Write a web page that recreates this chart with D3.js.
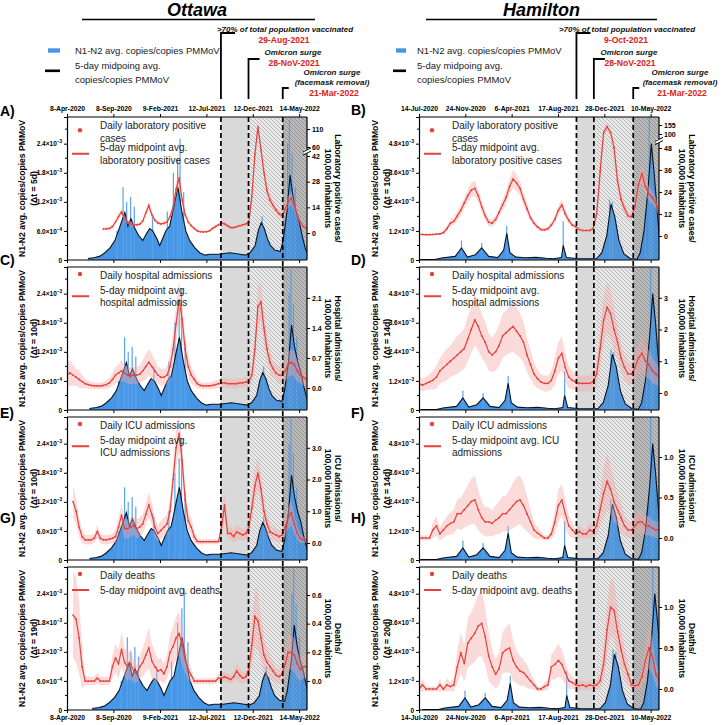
<!DOCTYPE html>
<html><head><meta charset="utf-8">
<script src="https://cdn.jsdelivr.net/npm/d3@7"></script>
<style>body{margin:0;background:#fff}svg{display:block}text{font-family:"Liberation Sans",Arial,sans-serif}</style>
</head><body><svg id="c" width="728" height="725"></svg>
<script>
// ---------------- DATA ----------------
const ottawaDates=["2020-04-08","2020-04-18","2020-04-28","2020-05-08","2020-05-18","2020-05-28","2020-06-07","2020-06-17","2020-06-27","2020-07-07",
"2020-07-17","2020-07-27","2020-08-06","2020-08-16","2020-08-26","2020-09-05","2020-09-15","2020-09-25","2020-10-05","2020-10-15",
"2020-10-25","2020-11-04","2020-11-14","2020-11-24","2020-12-04","2020-12-14","2020-12-24","2021-01-03","2021-01-13","2021-01-23",
"2021-02-02","2021-02-12","2021-02-22","2021-03-04","2021-03-14","2021-03-24","2021-04-03","2021-04-13","2021-04-23","2021-05-03",
"2021-05-13","2021-05-23","2021-06-02","2021-06-12","2021-06-22","2021-07-02","2021-07-12","2021-07-22","2021-08-01","2021-08-11",
"2021-08-21","2021-08-31","2021-09-10","2021-09-20","2021-09-30","2021-10-10","2021-10-20","2021-10-30","2021-11-09","2021-11-19",
"2021-11-29","2021-12-09","2021-12-19","2021-12-29","2022-01-08","2022-01-18","2022-01-28","2022-02-07","2022-02-17","2022-02-27",
"2022-03-09","2022-03-19","2022-03-29","2022-04-08","2022-04-18","2022-04-28","2022-05-08","2022-05-18","2022-05-28","2022-06-07"];
const hamiltonDates=["2020-07-14","2020-07-24","2020-08-03","2020-08-13","2020-08-23","2020-09-02","2020-09-12","2020-09-22","2020-10-02","2020-10-12",
"2020-10-22","2020-11-01","2020-11-11","2020-11-21","2020-12-01","2020-12-11","2020-12-21","2020-12-31","2021-01-10","2021-01-20",
"2021-01-30","2021-02-09","2021-02-19","2021-03-01","2021-03-11","2021-03-21","2021-03-31","2021-04-10","2021-04-20","2021-04-30",
"2021-05-10","2021-05-20","2021-05-30","2021-06-09","2021-06-19","2021-06-29","2021-07-09","2021-07-19","2021-07-29","2021-08-08",
"2021-08-18","2021-08-28","2021-09-07","2021-09-17","2021-09-27","2021-10-07","2021-10-17","2021-10-27","2021-11-06","2021-11-16",
"2021-11-26","2021-12-06","2021-12-16","2021-12-26","2022-01-05","2022-01-15","2022-01-25","2022-02-04","2022-02-14","2022-02-24",
"2022-03-06","2022-03-16","2022-03-26","2022-04-05","2022-04-15","2022-04-25","2022-05-05","2022-05-15","2022-05-25","2022-06-04"];

// Ottawa clinical (per 100,000)
const ottawaCases=[null,null,null,null,null,null,null,null,null,null,null,null,
2.2,2.3,2.5,3.5,6,9,11.5,8,6,5,4.5,4.5,4.8,6.5,11,15,10,7,5.5,5,5.3,6,9,14,24,30,18,10,6,4,2.5,1.2,0.7,0.6,0.7,1.2,2.5,3.5,4.5,5.5,5,4,3,3,3.5,4,4.5,5,6,20,45,116,55,33,23,18,15,12.5,10.5,9.5,13,17,19,15,10,6,3.5,2.5];
const ottawaCasesSpread=[null,null,null,null,null,null,null,null,null,null,null,null,
0.8,0.8,0.8,1,1.2,1.5,2,1.5,1.2,1,1,1,1,1.2,1.8,2.5,1.8,1.3,1,1,1,1.2,1.5,2.5,3.5,4,3,2,1.2,1,0.8,0.6,0.5,0.5,0.5,0.6,0.8,1,1,1.2,1.2,1,0.8,0.8,0.8,1,1,1,1.2,4,8,18,10,5,3.5,3,2.5,2,2,2,2.5,3,3.5,3,2,1.5,1,1];
const ottawaHosp=[0.3,0.35,0.3,0.25,0.2,0.15,0.1,0.08,0.06,0.05,0.05,0.05,0.06,0.08,0.12,0.2,0.3,0.35,0.4,0.35,0.3,0.28,0.3,0.3,0.32,0.4,0.5,0.6,0.5,0.4,0.3,0.25,0.25,0.3,0.5,0.9,1.5,2.05,1.6,0.9,0.5,0.3,0.2,0.1,0.06,0.05,0.05,0.05,0.06,0.08,0.1,0.12,0.12,0.1,0.1,0.1,0.1,0.12,0.12,0.14,0.15,0.3,0.9,1.9,2.0,1.4,0.9,0.6,0.45,0.35,0.3,0.3,0.4,0.55,0.6,0.55,0.4,0.3,0.25,0.2];
const ottawaHospSpread=[0.3,0.3,0.25,0.2,0.2,0.15,0.1,0.1,0.08,0.08,0.08,0.08,0.08,0.1,0.12,0.15,0.2,0.2,0.25,0.2,0.2,0.2,0.2,0.2,0.2,0.25,0.3,0.3,0.3,0.25,0.2,0.2,0.2,0.2,0.3,0.4,0.45,0.45,0.4,0.3,0.25,0.2,0.15,0.1,0.08,0.08,0.08,0.08,0.08,0.1,0.1,0.12,0.12,0.12,0.12,0.12,0.12,0.12,0.12,0.12,0.12,0.2,0.35,0.45,0.45,0.35,0.3,0.25,0.2,0.2,0.2,0.2,0.25,0.3,0.3,0.3,0.25,0.2,0.2,0.2];
const ottawaICU=[null,null,1.3,1.0,0.5,0.2,0.1,0.1,0.1,0.15,0.36,0.15,0.1,0.1,0.12,0.15,0.2,0.5,0.88,0.45,0.45,0.5,0.55,0.45,0.5,0.6,0.9,1.2,0.9,0.5,0.3,0.4,0.5,0.6,1.0,2.0,3.0,3.45,2.6,1.36,0.7,0.5,0.2,0.05,0.04,0.04,0.04,0.04,0.04,0.04,0.04,0.5,1.2,0.3,0.3,0.2,0.35,0.3,0.25,0.3,0.5,1.1,1.8,2.2,1.7,1.0,0.6,0.35,0.3,0.25,0.2,0.25,0.5,0.8,0.95,0.6,0.3,0.15,0.1,0.1];
const ottawaICUSpread=[null,null,0.5,0.4,0.3,0.2,0.15,0.15,0.15,0.15,0.2,0.15,0.15,0.15,0.15,0.15,0.2,0.3,0.35,0.3,0.3,0.3,0.3,0.3,0.3,0.3,0.35,0.4,0.35,0.3,0.25,0.3,0.3,0.3,0.4,0.5,0.6,0.6,0.5,0.4,0.3,0.3,0.2,0.1,0.08,0.08,0.08,0.08,0.08,0.08,0.08,0.3,0.4,0.2,0.2,0.2,0.25,0.2,0.2,0.2,0.3,0.4,0.5,0.5,0.45,0.35,0.3,0.25,0.2,0.2,0.2,0.2,0.3,0.35,0.4,0.3,0.2,0.15,0.1,0.1];
const ottawaDeaths=[null,null,0.46,0.43,0.3,0.1,0,0,0,0,0.02,0,0,0,0,0.1,0.16,0.12,0.22,0.13,0.1,0.12,0.07,0.05,0.1,0.13,0.18,0.23,0.14,0.1,0.07,0.08,0.05,0.1,0.2,0.24,0.3,0.33,0.25,0.15,0.08,0.04,0,0,0,0,0,0,0,0,0.02,0.02,0.03,0.02,0.01,0.03,0.07,0.04,0.02,0.03,0.08,0.25,0.45,0.42,0.3,0.18,0.13,0.1,0.07,0.04,0.03,0.05,0.12,0.2,0.2,0.18,0.12,0.08,0.1,0.1];
const ottawaDeathsSpread=[null,null,0.3,0.3,0.25,0.15,0.03,0.03,0.03,0.03,0.04,0.03,0.03,0.03,0.03,0.08,0.1,0.1,0.12,0.1,0.1,0.1,0.08,0.06,0.08,0.1,0.12,0.14,0.12,0.1,0.08,0.08,0.07,0.08,0.12,0.14,0.15,0.15,0.14,0.1,0.07,0.05,0.02,0.02,0.02,0.02,0.02,0.02,0.02,0.02,0.03,0.03,0.04,0.03,0.03,0.04,0.06,0.05,0.04,0.04,0.07,0.15,0.2,0.2,0.15,0.12,0.1,0.08,0.07,0.05,0.05,0.06,0.1,0.12,0.12,0.12,0.1,0.08,0.08,0.08];

// Hamilton clinical (per 100,000)
const hamiltonCases=[0.8,0.8,0.7,0.7,0.8,1.0,1.2,1.8,4,7,8,11,14,18,22,25,26,22,16,11,7.5,7,9,13,17,21,27,31,29,26,20,15,10,7,5,3.5,3.3,4,6,9,14,17,12,8.5,6,5,3.5,3,3,3,4,12,35,110,145,110,50,30,20,15,11,10.5,16,28,34,27,23,21,18,12];
const hamiltonCasesSpread=[0.5,0.5,0.5,0.5,0.5,0.6,0.7,1,1.5,2,2,2.5,3,3,3.5,4,4,3.5,3,2.5,2,2,2,2.5,3,3.5,4,5,4.5,4,3.5,3,2,1.5,1.2,1,1,1,1.5,2,2.5,3,2.5,2,1.5,1.2,1,1,1,1,1.2,3,8,20,25,20,10,5,3.5,3,2.5,2.5,3,4,5,4.5,4,3.5,3,2.5];
const hamiltonHosp=[0.3,0.25,0.3,0.35,0.4,0.5,0.7,0.8,0.9,1.0,1.1,1.2,1.3,1.4,1.7,2.0,2.3,2.1,1.8,1.6,1.3,1.2,1.3,1.5,1.8,1.9,2.0,2.1,1.95,1.8,1.6,1.2,0.9,0.6,0.45,0.35,0.3,0.3,0.4,0.7,1.1,1.25,0.8,0.5,0.4,0.35,0.3,0.3,0.3,0.3,0.35,0.6,1.4,2.3,2.7,2.5,2.0,1.6,1.1,0.8,0.6,0.6,0.8,1.1,1.25,1.0,0.9,0.7,0.6,0.5];
const hamiltonHospSpread=[0.2,0.2,0.2,0.25,0.3,0.35,0.4,0.45,0.5,0.5,0.55,0.6,0.6,0.65,0.7,0.75,0.8,0.75,0.7,0.65,0.6,0.55,0.6,0.65,0.7,0.7,0.75,0.8,0.75,0.7,0.65,0.55,0.45,0.35,0.3,0.25,0.25,0.25,0.3,0.45,0.5,0.55,0.45,0.35,0.3,0.25,0.25,0.25,0.25,0.25,0.3,0.4,0.6,0.75,0.8,0.75,0.65,0.55,0.45,0.4,0.35,0.35,0.45,0.5,0.55,0.5,0.45,0.4,0.35,0.3];
const hamiltonICU=[0,0,0,0,0.1,0.15,0.05,0.1,0.15,0.18,0.2,0.3,0.3,0.35,0.4,0.45,0.47,0.35,0.25,0.2,0.2,0.18,0.22,0.25,0.3,0.3,0.35,0.4,0.45,0.47,0.4,0.3,0.2,0.1,0.06,0.03,0,0,0.05,0.2,0.4,0.47,0.3,0.15,0.1,0.05,0.08,0.05,0.05,0.1,0.08,0.15,0.35,0.55,0.7,0.6,0.45,0.35,0.25,0.15,0.1,0.1,0.15,0.2,0.2,0.15,0.15,0.12,0.1,0.1];
const hamiltonICUSpread=[0.03,0.03,0.03,0.03,0.1,0.12,0.08,0.1,0.12,0.14,0.15,0.18,0.2,0.22,0.25,0.28,0.3,0.25,0.2,0.18,0.18,0.16,0.18,0.2,0.22,0.22,0.25,0.28,0.3,0.3,0.28,0.22,0.16,0.1,0.08,0.05,0.03,0.03,0.06,0.15,0.2,0.2,0.18,0.12,0.1,0.06,0.08,0.06,0.06,0.1,0.08,0.12,0.2,0.3,0.35,0.3,0.25,0.2,0.18,0.12,0.1,0.1,0.12,0.14,0.14,0.12,0.12,0.1,0.1,0.1];
const hamiltonDeaths=[0,0.05,0,0,0,0,0.05,0,0.05,0.03,0.05,0.27,0.44,0.31,0.56,0.62,0.68,0.77,0.8,0.64,0.4,0.27,0.18,0.25,0.44,0.48,0.5,0.35,0.27,0.22,0.2,0.15,0.1,0.05,0,0,0.03,0.05,0.27,0.3,0.35,0.3,0.2,0.1,0.08,0.05,0.04,0.05,0.03,0.05,0.04,0.05,0.1,0.3,0.72,1.0,0.96,0.7,0.48,0.3,0.18,0.05,0.04,0.05,0.15,0.35,0.5,0.4,0.18,0.1];
const hamiltonDeathsSpread=[0.03,0.08,0.03,0.03,0.03,0.03,0.08,0.03,0.08,0.05,0.08,0.2,0.25,0.22,0.3,0.32,0.35,0.38,0.4,0.35,0.3,0.22,0.18,0.2,0.25,0.28,0.3,0.25,0.2,0.18,0.16,0.14,0.1,0.06,0.03,0.03,0.05,0.06,0.15,0.18,0.2,0.18,0.14,0.1,0.08,0.06,0.06,0.06,0.05,0.06,0.06,0.06,0.1,0.2,0.3,0.35,0.35,0.3,0.25,0.2,0.14,0.06,0.06,0.06,0.12,0.2,0.25,0.22,0.14,0.1];

// Wastewater N1-N2/PMMoV (x 1e-4), 5-day midpoint avg (dates as plotted with panel A / B lag)
const ottawaWWDates=["2020-06-16","2020-07-09","2020-07-26","2020-08-11","2020-08-28","2020-09-13","2020-09-30","2020-10-16","2020-10-26","2020-11-05","2020-11-18","2020-12-01","2020-12-14","2020-12-27","2021-01-06","2021-01-16","2021-01-29","2021-02-08","2021-02-18","2021-02-28","2021-03-13","2021-03-23","2021-04-02","2021-04-09","2021-04-22","2021-05-05","2021-05-18","2021-06-04","2021-06-20","2021-07-07","2021-07-23","2021-08-22","2021-09-27","2021-10-31","2021-11-17","2021-12-03","2021-12-20","2021-12-30","2022-01-09","2022-01-19","2022-01-29","2022-02-08","2022-02-24","2022-03-13","2022-03-22","2022-04-04","2022-04-14","2022-04-24","2022-05-04","2022-05-14","2022-05-24","2022-06-03","2022-06-09"];
const ottawaWW=[0.3,0.5,0.8,1.5,2.5,4,7,9.8,7,8.5,6.5,5,4,5.5,6.5,6,4.5,3,4.5,6,7,10,13,15,10,6,4,2.5,1.5,1,1.2,1.2,1.5,1.2,1.0,1.5,3,6,7.7,6.5,4.5,3,2,1.8,4,10,17.5,13,10,8,5,2.5,1.5];
const ottawaSpikeDates=["2020-09-20","2020-10-10","2020-10-22","2020-11-04","2020-11-16","2021-01-15","2021-03-05","2021-03-25","2021-04-08","2021-04-16","2021-04-28","2022-01-12","2022-04-06","2022-04-12","2022-04-20","2022-05-01"];
const ottawaSpikes=[6,15,12,13,11,9,10,18,21,25,14,9,24,29,22,15];
const hamiltonWWDates=["2020-07-14","2020-08-29","2020-09-16","2020-10-26","2020-11-13","2020-11-30","2020-12-23","2021-01-10","2021-01-30","2021-02-25","2021-03-14","2021-03-23","2021-04-01","2021-04-18","2021-05-17","2021-06-15","2021-07-14","2021-08-04","2021-08-27","2021-09-01","2021-09-10","2021-10-09","2021-11-07","2021-12-06","2021-12-21","2022-01-04","2022-01-16","2022-01-27","2022-02-08","2022-02-22","2022-03-12","2022-04-01","2022-04-10","2022-04-21","2022-05-03","2022-05-12","2022-05-20","2022-05-29","2022-06-07"];
const hamiltonWW=[0.2,0.2,0.8,1.5,5,1.2,2.2,5,1.5,1,4,11,3,1.2,0.9,1.1,0.7,0.5,1,6,1,0.6,0.5,0.6,3,10,23,18,8,2.5,0.6,0.3,3,12,30,48,36,20,4];
const hamiltonSpikeDates=["2020-11-13","2021-01-10","2021-03-23","2021-09-01","2022-01-12","2022-01-20","2022-04-25","2022-05-06","2022-05-10","2022-05-16"];
const hamiltonSpikes=[8,7,14,16,25,24,20,59,45,40];

// Axis ticks / labels / events
const ottawaTopTicks=["2020-04-08","2020-09-08","2021-02-09","2021-07-12","2021-12-12","2022-05-14"];
const ottawaTopLabels=["8-Apr-2020","8-Sep-2020","9-Feb-2021","12-Jul-2021","12-Dec-2021","14-May-2022"];
const hamiltonTopTicks=["2020-07-14","2020-11-24","2021-04-06","2021-08-17","2021-12-28","2022-05-10"];
const hamiltonTopLabels=["14-Jul-2020","24-Nov-2020","6-Apr-2021","17-Aug-2021","28-Dec-2021","10-May-2022"];
const ottawaEvents=["2021-08-29","2021-11-28","2022-03-21"];
const hamiltonEvents=["2021-10-09","2021-11-28","2022-03-21"];
const ottawaEventLabels=["29-Aug-2021","28-NoV-2021","21-Mar-2022"];
const hamiltonEventLabels=["9-Oct-2021","28-NoV-2021","21-Mar-2022"];
const ottawaLeftTicks=[0,6e-4,1.2e-3,1.8e-3,2.4e-3];
const ottawaLeftMinor=[3e-4,9e-4,1.5e-3,2.1e-3,2.7e-3];
const hamiltonLeftTicks=[0,1.2e-3,2.4e-3,3.6e-3,4.8e-3];
const hamiltonLeftMinor=[6e-4,1.8e-3,3e-3,4.2e-3,5.4e-3];
const ottawaLags=[5,10,10,19];
const hamiltonLags=[10,14,14,20];
const casesTicksO=[0,14,28,42,60,110], hospTicksO=[0,0.7,1.4,2.1], icuTicksO=[0,1,2,3], deathTicksO=[0,0.2,0.4,0.6];
const casesTicksH=[0,12,24,36,48,100,155], hospTicksH=[0,1,2,3], icuTicksH=[0,0.5,1], deathTicksH=[0,0.5,1];

// ---------------- DRAW ----------------
const parse=d3.timeParse("%Y-%m-%d");
const svg=d3.select("#c");
const RED="#e8413c", BLUE="#4797e6", BLK="#0b1220";
const rows=[117,267,417,567], PH=143;
const defs=svg.append("defs");
function hatch(id,color,sw){const p=defs.append("pattern").attr("id",id).attr("patternUnits","userSpaceOnUse").attr("width",4).attr("height",4);
 p.append("path").attr("d","M0,0L4,4M-1,3L1,5M3,-1L5,1").attr("stroke",color).attr("stroke-width",sw).attr("fill","none");}
hatch("h2","#8c8c8c",0.7); hatch("h3","#6e6e6e",0.8);

const cities=[
 {key:"o",title:"Ottawa",tx:197,ul:[82,315],x0:67,x1:307,start:"2020-04-08",end:"2022-06-09",leftMax:2.95e-3,lt:ottawaLeftTicks,lm:ottawaLeftMinor,
  wwd:ottawaWWDates,ww:ottawaWW,sd:ottawaSpikeDates,sp:ottawaSpikes,baseLag:5,dates:ottawaDates,ev:ottawaEvents,evl:ottawaEventLabels,
  tt:ottawaTopTicks,tl:ottawaTopLabels,lx:0,yl1:25,yl2:37,rl1:335,rl2:325,lags:ottawaLags,legX:48,
  annX:[285,293,332],
  panels:[
   {L:"A)",LY:116,v:ottawaCases,s:ottawaCasesSpread,rd:[-14.7,42,60,143.3],ro:[0,104,113,143],rt:casesTicksO,f:"d",rl:"Laboratory positive cases/",l1:["Daily laboratory positive","cases"],l2:["5-day midpoint avg.","laboratory positive cases"],brk:[42,60]},
   {L:"C)",LY:265,v:ottawaHosp,s:ottawaHospSpread,rd:[-0.513,2.82],ro:[0,143],rt:hospTicksO,f:".1f",rl:"Hospital admissions/",l1:["Daily hospital admissions"],l2:["5-day midpoint avg.","hospital admissions"]},
   {L:"E)",LY:418,v:ottawaICU,s:ottawaICUSpread,rd:[-0.536,3.97],ro:[0,143],rt:icuTicksO,f:".1f",rl:"ICU admissions/",l1:["Daily ICU admissions"],l2:["5-day midpoint avg.","ICU admissions"]},
   {L:"G)",LY:523,v:ottawaDeaths,s:ottawaDeathsSpread,rd:[-0.202,0.795],ro:[0,143],rt:deathTicksO,f:".1f",rl:"Deaths/",l1:["Daily deaths"],l2:["5-day midpoint avg. deaths"]}
  ]},
 {key:"h",title:"Hamilton",tx:541.5,ul:[426,657],x0:419,x1:659,start:"2020-07-14",end:"2022-06-03",leftMax:5.9e-3,lt:hamiltonLeftTicks,lm:hamiltonLeftMinor,
  wwd:hamiltonWWDates,ww:hamiltonWW,sd:hamiltonSpikeDates,sp:hamiltonSpikes,baseLag:10,dates:hamiltonDates,ev:hamiltonEvents,evl:hamiltonEventLabels,
  tt:hamiltonTopTicks,tl:hamiltonTopLabels,lx:351,yl1:378,yl2:390,rl1:689,rl2:679,lags:hamiltonLags,legX:396,
  annX:[627,629,680],
  panels:[
   {L:"B)",LY:115,v:hamiltonCases,s:hamiltonCasesSpread,rd:[-13.1,48,100,204],ro:[0,112,126,143],rt:casesTicksH,f:"d",rl:"Laboratory positive cases/",l1:["Daily laboratory positive","cases"],l2:["5-day midpoint avg.","laboratory positive cases"],brk:[48,100]},
   {L:"D)",LY:265,v:hamiltonHosp,s:hamiltonHospSpread,rd:[-0.536,3.97],ro:[0,143],rt:hospTicksH,f:"d",rl:"Hospital admissions/",l1:["Daily hospital admissions"],l2:["5-day midpoint avg.","hospital admissions"]},
   {L:"F)",LY:418,v:hamiltonICU,s:hamiltonICUSpread,rd:[-0.272,1.494],ro:[0,143],rt:icuTicksH,f:".1f",rl:"ICU admissions/",l1:["Daily ICU admissions"],l2:["5-day midpoint avg. ICU","admissions"]},
   {L:"H)",LY:523,v:hamiltonDeaths,s:hamiltonDeathsSpread,rd:[-0.256,1.488],ro:[0,143],rt:deathTicksH,f:".1f",rl:"Deaths/",l1:["Daily deaths"],l2:["5-day midpoint avg. deaths"]}
  ]}
];

cities.forEach(c=>{
 const x=d3.scaleTime().domain([parse(c.start),parse(c.end)]).range([c.x0,c.x1]);
 const ev=c.ev.map(parse).map(x);
 // title
 svg.append("text").attr("x",c.tx).attr("y",16).attr("text-anchor","middle").attr("font-size",18).attr("font-weight","bold").attr("font-style","italic").text(c.title);
 svg.append("line").attr("x1",c.ul[0]).attr("x2",c.ul[1]).attr("y1",19.5).attr("y2",19.5).attr("stroke","#000").attr("stroke-width",1.6);
 // header legend
 const lg=svg.append("g").attr("font-size",9.5).attr("fill","#222");
 lg.append("rect").attr("x",c.legX).attr("y",48.3).attr("width",c.key==="o"?12:10).attr("height",4.4).attr("fill",BLUE);
 lg.append("rect").attr("x",c.legX-3).attr("y",69.5).attr("width",c.key==="o"?15:13).attr("height",2.6).attr("fill","#000");
 const tx=c.legX+(c.key==="o"?27:21);
 lg.append("text").attr("x",tx).attr("y",53.5).text("N1-N2 avg. copies/copies PMMoV");
 lg.append("text").attr("x",tx).attr("y",69).text("5-day midpoing avg.");
 lg.append("text").attr("x",tx).attr("y",83).text("copies/copies PMMoV");
 // annotations
 const bt=[33,59,88], bl=[14,11,6];
 ev.forEach((ex,i)=>{
  svg.append("path").attr("d",`M${ex+bl[i]},${bt[i]}H${ex}V99`).attr("fill","none").attr("stroke","#000").attr("stroke-width",1.8);
 });
 const at=svg.append("g").attr("text-anchor","middle").attr("font-weight","bold");
 const tb=(t,xx,yy,red,fs)=>at.append("text").attr("x",xx).attr("y",yy).attr("font-size",fs||8).attr("font-style",red?"normal":"italic").attr("fill",red?"#e02020":"#111").text(t);
 tb(">70% of total population vaccinated",c.annX[0],32);
 tb(c.evl[0],c.annX[0]-1,42.5,true,8.6);
 tb("Omicron surge",c.annX[1],55);
 tb(c.evl[1],c.annX[1]+1,65.5,true,8.6);
 tb("Omicron surge",c.annX[2],75);
 tb("(facemask removal)",c.annX[2],84.5);
 tb(c.evl[2],c.annX[2]+2,95.5,true,8.6);

 const yL=d3.scaleLinear().domain([0,c.leftMax]);
 c.panels.forEach((p,pi)=>{
  const top=rows[pi], bot=top+PH;
  yL.range([bot,top]);
  const yR=d3.scaleLinear().domain(p.rd).range(p.ro.map(o=>bot-o));
  const g=svg.append("g");
  const cid=`clip-${c.key}-${pi}`;
  defs.append("clipPath").attr("id",cid).append("rect").attr("x",c.x0).attr("y",top).attr("width",c.x1-c.x0).attr("height",PH);
  const cg=g.append("g").attr("clip-path",`url(#${cid})`);
  // shaded regions
  cg.append("rect").attr("x",ev[0]).attr("y",top).attr("width",ev[1]-ev[0]).attr("height",PH).attr("fill","#d9d9d9");
  cg.append("rect").attr("x",ev[1]).attr("y",top).attr("width",ev[2]-ev[1]).attr("height",PH).attr("fill","#e8e8e8");
  cg.append("rect").attr("x",ev[2]).attr("y",top).attr("width",c.x1-ev[2]).attr("height",PH).attr("fill","#b9b9b9");
  // wastewater
  const shift=c.lags[pi]-c.baseLag;
  const ww=c.wwd.map((d,i)=>({d:d3.timeDay.offset(parse(d),shift),v:c.ww[i]*1e-4}));
  cg.append("path").datum(ww).attr("fill",BLUE).attr("d",d3.area().x(d=>x(d.d)).y0(bot).y1(d=>yL(d.v)));
  c.sd.forEach((d,i)=>{const xx=x(d3.timeDay.offset(parse(d),shift));
   cg.append("rect").attr("x",xx-0.6).attr("width",1.2).attr("y",yL(c.sp[i]*1e-4)).attr("height",bot-yL(c.sp[i]*1e-4)).attr("fill","#5aa3ea");});
  // hatch overlays
  cg.append("rect").attr("x",ev[1]).attr("y",top).attr("width",ev[2]-ev[1]).attr("height",PH).attr("fill","url(#h2)").attr("opacity",0.75);
  cg.append("rect").attr("x",ev[2]).attr("y",top).attr("width",c.x1-ev[2]).attr("height",PH).attr("fill","url(#h3)").attr("opacity",0.6);
  cg.append("path").datum(ww).attr("fill","none").attr("stroke",BLK).attr("stroke-width",1.1).attr("d",d3.line().x(d=>x(d.d)).y(d=>yL(d.v)));
  // clinical
  const cl=c.dates.map((d,i)=>({d:parse(d),v:p.v[i],s:p.s[i]}));
  const def=d=>d.v!=null;
  cg.append("path").datum(cl).attr("fill","#f5aaa6").attr("opacity",0.42)
   .attr("d",d3.area().defined(def).x(d=>x(d.d)).y0(d=>yR(d.v-(d.s||0))).y1(d=>yR(d.v+(d.s||0))));
  cg.append("path").datum(cl).attr("fill","none").attr("stroke",RED).attr("stroke-width",1.2)
   .attr("d",d3.line().defined(def).x(d=>x(d.d)).y(d=>yR(d.v)));
  cg.selectAll(null).data(cl.filter(def)).join("circle").attr("cx",d=>x(d.d)).attr("cy",d=>yR(d.v)).attr("r",0.9).attr("fill",RED);
  // frame / axes
  g.append("line").attr("x1",c.x0).attr("x2",c.x1).attr("y1",top).attr("y2",top).attr("stroke","#000").attr("stroke-width",1.1);
  const la=d3.axisLeft(yL).tickValues(c.lt).tickSize(3).tickPadding(2);
  const lag=g.append("g").attr("transform",`translate(${c.x0},0)`).call(la);
  lag.select(".domain").attr("stroke-width",1.2);
  lag.selectAll(".tick text").attr("font-size",6.5).attr("font-weight","bold").attr("font-family",'"Liberation Sans",Arial,sans-serif').each(function(d){
   const t=d3.select(this); t.text(null);
   if(d===0){t.text("0");return;}
   const e=Math.floor(Math.log10(d)+1e-9), m=d/Math.pow(10,e);
   t.append("tspan").text(m.toFixed(1)+"×10");
   t.append("tspan").attr("dy",-3).attr("font-size",4.6).text(String(e).replace("-","−"));
  });
  c.lm.forEach(v=>g.append("line").attr("x1",c.x0-2).attr("x2",c.x0).attr("y1",yL(v)).attr("y2",yL(v)).attr("stroke","#000"));
  const ra=d3.axisRight(yR).tickValues(p.rt).tickSize(3).tickPadding(2).tickFormat(d3.format(p.f));
  const rag=g.append("g").attr("transform",`translate(${c.x1},0)`).call(ra);
  rag.select(".domain").attr("d",`M0,${top}V${bot}`).attr("stroke-width",1.2);
  rag.selectAll(".tick text").attr("font-size",7).attr("font-weight","bold").attr("font-family",'"Liberation Sans",Arial,sans-serif');
  if(p.brk){const yb=(yR(p.brk[0])+yR(p.brk[1]))/2;
   g.append("rect").attr("x",c.x1-3).attr("y",yb-2).attr("width",6).attr("height",4).attr("fill","#fff");
   [-1.6,1.6].forEach(o=>g.append("line").attr("x1",c.x1-4).attr("x2",c.x1+4).attr("y1",yb+o+2).attr("y2",yb+o-2).attr("stroke","#000").attr("stroke-width",1));}
  // bottom axis
  const ba=d3.axisBottom(x).tickValues(c.tt.map(parse)).tickSize(3).tickFormat((d,i)=>pi===3?c.tl[i]:"");
  const bag=g.append("g").attr("transform",`translate(0,${bot})`).call(ba);
  bag.select(".domain").attr("d",`M${c.x0},0H${c.x1}`).attr("stroke-width",1.2);
  bag.selectAll(".tick text").attr("font-size",6.8).attr("font-weight","bold").attr("font-family",'"Liberation Sans",Arial,sans-serif').attr("dy","0.6em");
  if(pi===0){
   const ta=d3.axisTop(x).tickValues(c.tt.map(parse)).tickSize(3).tickFormat((d,i)=>c.tl[i]);
   const tag=g.append("g").attr("transform",`translate(0,${top})`).call(ta);
   tag.select(".domain").remove();
   tag.selectAll(".tick text").attr("font-size",6.8).attr("font-weight","bold").attr("font-family",'"Liberation Sans",Arial,sans-serif');
  }
  // dashed event lines
  ev.forEach(ex=>g.append("line").attr("x1",ex).attr("x2",ex).attr("y1",top).attr("y2",bot+(pi<3?7:0)).attr("stroke","#000").attr("stroke-width",1.7).attr("stroke-dasharray","5,3"));
  // legend
  const lh=12.5;
  const ys1=p.l1.map((_,i)=>top+8.5+i*lh);
  const s2=p.l1.length>1?ys1[ys1.length-1]+9.5:ys1[0]+14.5;
  const ys2=p.l2.map((_,i)=>s2+i*lh);
  const lgp=g.append("g").attr("font-size",10).attr("fill","#222");
  p.l1.forEach((t,i)=>lgp.append("text").attr("x",c.x0+33).attr("y",ys1[i]).attr("dy","0.35em").text(t));
  p.l2.forEach((t,i)=>lgp.append("text").attr("x",c.x0+33).attr("y",ys2[i]).attr("dy","0.35em").text(t));
  lgp.append("circle").attr("cx",c.x0+13).attr("cy",d3.mean(ys1)-1.5).attr("r",2.2).attr("fill",RED);
  lgp.append("line").attr("x1",c.x0+5).attr("x2",c.x0+22).attr("y1",d3.mean(ys2)).attr("y2",d3.mean(ys2)).attr("stroke",RED).attr("stroke-width",2);
  // axis titles
  const cy=top+PH/2;
  const yt=(xx,rot,t)=>g.append("text").attr("transform",`translate(${xx},${cy}) rotate(${rot})`).attr("text-anchor","middle").attr("font-size",8.6).attr("font-weight","bold").text(t);
  yt(c.yl1,-90,"N1-N2 avg. copies/copies PMMoV");
  yt(c.yl2,-90,`(Δt = ${c.lags[pi]}d)`);
  yt(c.rl1,90,p.rl);
  yt(c.rl2,90,"100,000 inhabitants");
  // panel letter
  g.append("text").attr("x",c.lx).attr("y",p.LY).attr("font-size",14).attr("font-weight","bold").text(p.L);
 });
});
</script></body></html>
